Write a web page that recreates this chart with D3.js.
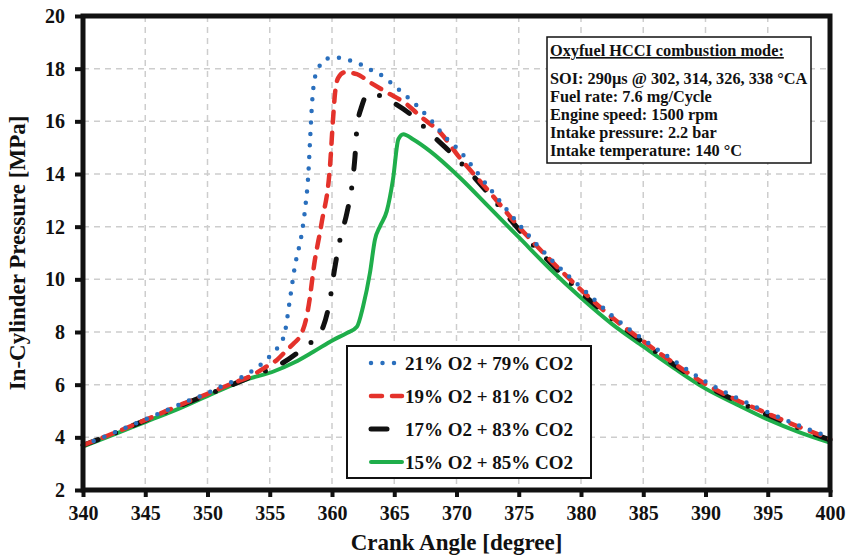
<!DOCTYPE html>
<html>
<head>
<meta charset="utf-8">
<script src="https://cdn.jsdelivr.net/npm/d3@7"></script>
<style>
  body { margin: 0; background: #fff; }
  svg text { font-family: "Liberation Serif", "Times New Roman", serif; font-weight: bold; fill: #111; }
</style>
</head>
<body>
<div id="chart"></div>
<script>
// ---- data ----
const xTicks = [340, 345, 350, 355, 360, 365, 370, 375, 380, 385, 390, 395, 400];
const yTicks = [2, 4, 6, 8, 10, 12, 14, 16, 18, 20];

const seriesNames = ["21% O2 + 79% CO2", "19% O2 + 81% CO2", "17% O2 + 83% CO2", "15% O2 + 85% CO2"];

const angle21 = [340, 342, 344, 346, 348, 350, 351.2, 353, 354.5, 355.2, 355.8, 356.2, 356.6, 357.0, 357.6, 357.85, 358.1, 358.25, 358.4, 358.6, 358.9, 359.4, 360.2, 361.2, 362.1, 362.9, 363.8, 365.25, 366.7, 368, 369.2, 370, 372.5, 375, 377.5, 380, 382.5, 385, 387.5, 390, 392.5, 395, 397.5, 400];
const press21 = [3.7, 4.08, 4.48, 4.88, 5.3, 5.68, 5.95, 6.35, 6.85, 7.18, 7.52, 7.95, 9.17, 10.44, 11.83, 12.72, 14.0, 15.4, 16.7, 17.6, 18.0, 18.34, 18.43, 18.34, 18.21, 18.0, 17.8, 17.25, 16.65, 16.02, 15.35, 15.0, 13.55, 12.1, 10.8, 9.7, 8.62, 7.72, 6.9, 6.12, 5.5, 4.95, 4.45, 4.0];

const angle19 = [340, 342, 344, 346, 348, 350, 352, 353.4, 354.75, 355.6, 356.4, 357.0, 357.43, 357.97, 358.2, 358.55, 359.17, 359.84, 360.1, 360.25, 360.5, 361.0, 362.0, 363.05, 364.4, 366.0, 367.07, 368.7, 370.15, 372.5, 375, 377.5, 380, 382.5, 385, 387.5, 390, 392.5, 395, 397.5, 400];
const press19 = [3.7, 4.07, 4.46, 4.86, 5.27, 5.65, 6.05, 6.31, 6.69, 6.95, 7.33, 7.6, 7.84, 8.6, 9.23, 10.5, 12.15, 14.3, 16.2, 17.1, 17.65, 17.86, 17.79, 17.48, 17.1, 16.65, 16.2, 15.57, 14.68, 13.4, 12.0, 10.75, 9.6, 8.55, 7.65, 6.8, 6.02, 5.42, 4.9, 4.4, 3.95];

const angle17 = [340, 342, 344, 346, 348, 350, 352, 354, 355.8, 357.7, 358.9, 359.3, 359.84, 360.2, 360.6, 361.2, 361.6, 361.85, 362.0, 362.4, 362.8, 363.3, 364.4, 366.4, 368, 370, 372.5, 375, 377.5, 380, 382.5, 385, 387.5, 390, 392.5, 395, 397.5, 400];
const press17 = [3.7, 4.06, 4.45, 4.84, 5.24, 5.62, 6.0, 6.4, 6.76, 7.39, 7.9, 8.21, 9.23, 10.37, 11.41, 12.53, 13.54, 14.68, 15.73, 16.59, 17.0, 17.05, 16.84, 16.23, 15.5, 14.6, 13.3, 11.9, 10.65, 9.5, 8.5, 7.6, 6.75, 5.98, 5.38, 4.85, 4.35, 3.9];

const angle15 = [340, 342.4, 345.1, 347.8, 350.5, 353.1, 355.3, 357, 358.5, 360.1, 361.2, 362.0, 362.5, 363.05, 363.45, 363.86, 364.4, 364.9, 365.33, 365.73, 366.5, 367.87, 370.28, 372.5, 375, 377.5, 380, 382.5, 385, 387.5, 390, 392.5, 395, 397.5, 400];
const press15 = [3.65, 4.09, 4.6, 5.11, 5.68, 6.19, 6.5, 6.85, 7.25, 7.7, 7.96, 8.2, 8.98, 10.25, 11.51, 12.02, 12.59, 13.8, 15.32, 15.51, 15.32, 14.87, 13.86, 12.8, 11.6, 10.4, 9.3, 8.3, 7.45, 6.62, 5.85, 5.25, 4.68, 4.2, 3.8];

const noteTitle = "Oxyfuel HCCI combustion mode:";
const noteLines = [
  "SOI: 290\u00b5s @ 302, 314, 326, 338 \u00b0CA",
  "Fuel rate: 7.6 mg/Cycle",
  "Engine speed: 1500 rpm",
  "Intake pressure: 2.2 bar",
  "Intake temperature: 140 \u00b0C",
];

// ---- layout ----
const width = 847, height = 557;
const margin = { top: 16, right: 17, bottom: 67, left: 83 };

const styles = [
  { color: "#2a6fbd", width: 4.5, dash: "0,11.5" },
  { color: "#e4322b", width: 4.5, dash: "11,10" },
  { color: "#111111", width: 5, dash: "16,19,0,19" },
  { color: "#1fae4b", width: 4, dash: null },
];

const svg = d3.select("#chart").append("svg")
  .attr("width", width).attr("height", height);

svg.append("rect").attr("width", width).attr("height", height).attr("fill", "#fff");

const x = d3.scaleLinear().domain([340, 400]).range([margin.left, width - margin.right]);
const y = d3.scaleLinear().domain([2, 20]).range([height - margin.bottom, margin.top]);

// grid
svg.append("g").selectAll("line")
  .data(xTicks.slice(1, -1)).join("line")
  .attr("x1", d => x(d)).attr("x2", d => x(d))
  .attr("y1", y(20)).attr("y2", y(2))
  .attr("stroke", "#cdcdcd").attr("stroke-width", 1.5).attr("stroke-dasharray", "6,5");

svg.append("g").selectAll("line")
  .data(yTicks.slice(1, -1)).join("line")
  .attr("x1", x(340)).attr("x2", x(400))
  .attr("y1", d => y(d)).attr("y2", d => y(d))
  .attr("stroke", "#cdcdcd").attr("stroke-width", 1.5).attr("stroke-dasharray", "6,5");

// curves
const line = d3.line().x(d => x(d[0])).y(d => y(d[1])).curve(d3.curveMonotoneX);
const series = [
  d3.zip(angle21, press21),
  d3.zip(angle19, press19),
  d3.zip(angle17, press17),
  d3.zip(angle15, press15),
];

// draw green first so the dashed ones sit on top of it
[3, 2, 1, 0].forEach(i => {
  const s = styles[i];
  svg.append("path")
    .datum(series[i])
    .attr("d", line)
    .attr("fill", "none")
    .attr("stroke", s.color)
    .attr("stroke-width", s.width)
    .attr("stroke-linecap", "round")
    .attr("stroke-linejoin", "round")
    .attr("stroke-dasharray", s.dash);
});

// axes
const xAxis = svg.append("g")
  .attr("transform", `translate(0,${y(2)})`)
  .call(d3.axisBottom(x).tickValues(xTicks).tickSize(7).tickSizeOuter(0).tickPadding(9));
const yAxis = svg.append("g")
  .attr("transform", `translate(${x(340)},0)`)
  .call(d3.axisLeft(y).tickValues(yTicks).tickSize(8).tickSizeOuter(0).tickPadding(10));

[xAxis, yAxis].forEach(a => {
  a.select(".domain").remove();
  a.selectAll(".tick line").attr("stroke", "#111").attr("stroke-width", 4);
  a.selectAll(".tick text").attr("font-size", 20).attr("fill", "#111")
    .style("font-family", '"Liberation Serif", serif').style("font-weight", "bold");
});

// frame
svg.append("rect")
  .attr("x", x(340)).attr("y", y(20))
  .attr("width", x(400) - x(340)).attr("height", y(2) - y(20))
  .attr("fill", "none").attr("stroke", "#111").attr("stroke-width", 5);

// axis titles
svg.append("text")
  .attr("x", (x(340) + x(400)) / 2).attr("y", 550)
  .attr("text-anchor", "middle").attr("font-size", 23)
  .text("Crank Angle [degree]");

svg.append("text")
  .attr("transform", `translate(25,${(y(2) + y(20)) / 2}) rotate(-90)`)
  .attr("text-anchor", "middle").attr("font-size", 23)
  .text("In-Cylinder Pressure [MPa]");

// note box
const note = svg.append("g");
note.append("rect")
  .attr("x", 547).attr("y", 37).attr("width", 264).attr("height", 126)
  .attr("fill", "#fff").attr("stroke", "#111").attr("stroke-width", 1.5);
note.append("text")
  .attr("x", 550).attr("y", 56).attr("font-size", 16.3)
  .style("text-decoration", "underline")
  .text(noteTitle);
note.selectAll("text.line")
  .data(noteLines).join("text")
  .attr("class", "line")
  .attr("x", 550).attr("y", (d, i) => 84 + i * 18)
  .attr("font-size", 16.3)
  .text(d => d);

// legend
const legend = svg.append("g");
legend.append("rect")
  .attr("x", 347).attr("y", 346).attr("width", 244).attr("height", 132)
  .attr("fill", "#fff").attr("stroke", "#111").attr("stroke-width", 2);

seriesNames.forEach((name, i) => {
  const cy = 363 + i * 33;
  const s = styles[i];
  legend.append("line")
    .attr("x1", 371).attr("x2", 402).attr("y1", cy).attr("y2", cy)
    .attr("stroke", s.color).attr("stroke-width", s.width)
    .attr("stroke-linecap", "round")
    .attr("stroke-dasharray", s.dash);
  legend.append("text")
    .attr("x", 405).attr("y", cy + 6.5)
    .attr("font-size", 19)
    .text(name);
});
</script>
</body>
</html>
